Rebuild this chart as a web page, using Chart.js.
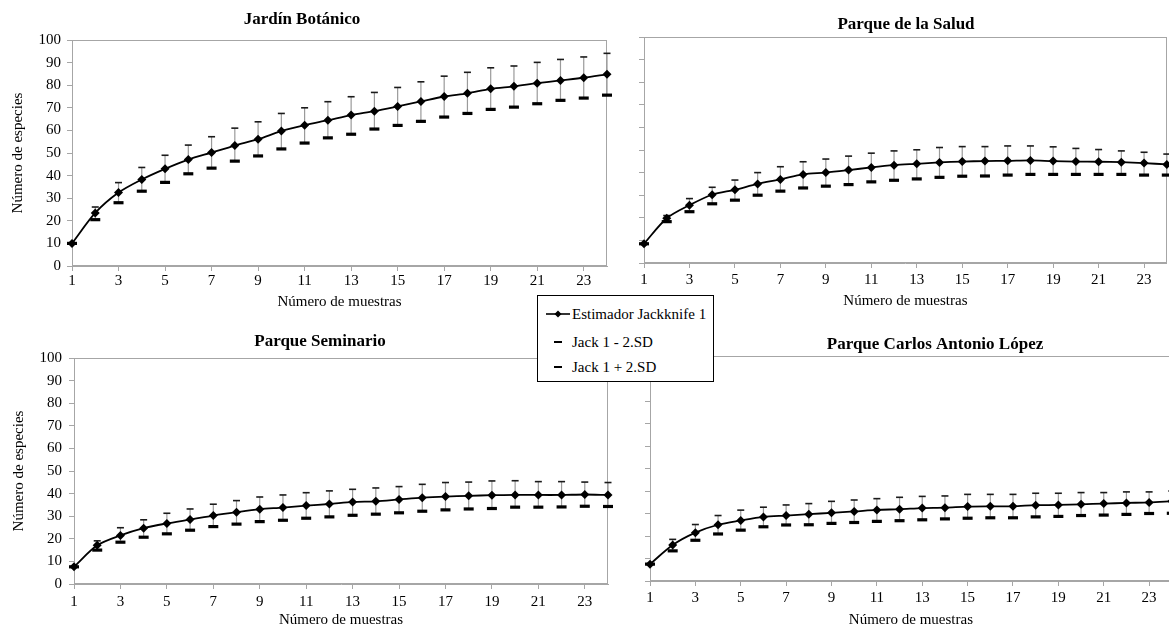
<!DOCTYPE html>
<html>
<head>
<meta charset="utf-8">
<script src="https://cdn.jsdelivr.net/npm/chart.js@4.4.1/dist/chart.umd.min.js"></script>
<style>
  html, body { margin: 0; padding: 0; background: #fff; width: 1169px; height: 629px; overflow: hidden; }
  body { position: relative; }
  canvas { position: absolute; }
  #legend { position: absolute; left: 537px; top: 295px; width: 177px; height: 87px; box-sizing: border-box;
            border: 1px solid #000; background: #fff; z-index: 10;
            font-family: 'Liberation Serif', 'Times New Roman', serif; font-size: 15px; color: #000; }
  #legend .row { position: absolute; left: 0; height: 18px; line-height: 18px; white-space: nowrap; }
  #legend svg { position: absolute; top: 4px; }
  #legend span { position: absolute; left: 34px; top: 0; }
</style>
</head>
<body>
<canvas id="c1" width="620" height="320" style="left:0px;top:0px"></canvas>
<canvas id="c2" width="560" height="320" style="left:615px;top:0px"></canvas>
<canvas id="c3" width="620" height="309" style="left:0px;top:320px"></canvas>
<canvas id="c4" width="565" height="309" style="left:615px;top:320px"></canvas>
<div id="legend"></div>
<script>
// ---------------- DATA ----------------
const samples = [1,2,3,4,5,6,7,8,9,10,11,12,13,14,15,16,17,18,19,20,21,22,23,24];
const xTickLabels = [1,3,5,7,9,11,13,15,17,19,21,23];
const seriesNames = ['Estimador Jackknife 1', 'Jack 1 - 2.SD', 'Jack 1 + 2.SD'];
const panelTitles = ['Jardín Botánico', 'Parque de la Salud', 'Parque Seminario', 'Parque Carlos Antonio López'];
const yAxisTitle = 'Número de especies';
const xAxisTitle = 'Número de muestras';

const jardinMean  = [10, 23.5, 32.5, 38.3, 43, 47.1, 50.2, 53.3, 56.1, 59.7, 62.3, 64.5, 66.8, 68.5, 70.6, 72.8, 75, 76.4, 78.4, 79.5, 80.9, 82.1, 83.3, 84.8];
const jardinLower = [10, 20.5, 28, 33.1, 37, 40.8, 43.3, 46.4, 48.7, 51.8, 54.4, 56.7, 58.3, 60.6, 62.2, 64, 65.9, 67.5, 69.3, 70.3, 71.8, 73.3, 74.3, 75.6];
const jardinUpper = [10, 26.1, 36.9, 43.6, 49, 53.5, 57.2, 61, 63.8, 67.5, 70, 72.7, 74.9, 76.8, 79, 81.5, 84, 85.7, 87.7, 88.5, 90.1, 91.4, 92.5, 94.1];

const saludMean  = [8.5, 19.8, 25.6, 30.2, 32.4, 35, 37, 39.2, 40, 41.1, 42.3, 43.3, 43.9, 44.5, 44.9, 45.1, 45.2, 45.4, 45.1, 44.9, 44.8, 44.6, 44.2, 43.6];
const saludLower = [8.5, 18.3, 22.7, 26.2, 27.8, 30, 31.8, 33.2, 34, 34.7, 35.9, 36.6, 37.2, 37.9, 38.4, 38.5, 38.9, 39.2, 39.2, 39.2, 39.2, 39.2, 38.9, 38.9];
const saludUpper = [8.5, 21, 28.5, 33.5, 36.7, 40, 42.6, 44.8, 46, 47.3, 48.6, 49.6, 50.1, 51.1, 51.5, 51.5, 51.8, 51.8, 51.4, 50.7, 50.2, 49.6, 49, 48.2];

const seminarioMean  = [7.6, 17.1, 21.5, 24.7, 26.8, 28.5, 30.3, 31.8, 33.1, 33.8, 34.7, 35.4, 36.3, 36.6, 37.4, 38.2, 38.7, 39, 39.3, 39.4, 39.4, 39.4, 39.6, 39.4];
const seminarioLower = [7.6, 15, 18.5, 20.7, 22.2, 23.8, 25.4, 26.5, 27.6, 28.2, 29.1, 29.7, 30.4, 30.9, 31.5, 32.2, 32.8, 33.2, 33.4, 34, 34, 34.1, 34.4, 34.3];
const seminarioUpper = [7.6, 19.1, 24.9, 28.4, 31.3, 33.2, 35.3, 36.9, 38.5, 39.4, 40.4, 41.2, 41.9, 42.5, 43.1, 44.1, 44.9, 45.1, 45.6, 45.7, 45.3, 45.3, 45.1, 44.9];

const lopezMean  = [7.5, 16, 21.5, 25, 26.9, 28.5, 29.1, 29.7, 30.3, 30.9, 31.6, 31.9, 32.4, 32.6, 33.1, 33.2, 33.2, 33.7, 33.8, 34.1, 34.4, 34.7, 34.9, 35.5];
const lopezLower = [7.5, 13.4, 18.1, 20.9, 22.6, 24.1, 24.9, 25, 25.6, 26, 26.5, 26.8, 27.2, 27.6, 27.9, 28.1, 28.1, 28.5, 28.7, 29.1, 29.3, 29.6, 30, 30.1];
const lopezUpper = [7.5, 18.5, 25.1, 29.1, 31.5, 32.8, 33.8, 34.4, 35.4, 36, 36.6, 37.2, 37.6, 37.8, 38.5, 38.5, 38.5, 39, 39, 39.3, 39.3, 39.6, 39.6, 40];

// ---------------- STYLE / LAYOUT ----------------
Chart.defaults.font.family = "'Liberation Serif', 'Times New Roman', serif";
Chart.defaults.color = '#000';
const AXIS_GRAY = '#a6a6a6';

const framePlugin = {
  id: 'frame',
  beforeDatasetsDraw(chart) {
    const {ctx, chartArea: a} = chart;
    ctx.save();
    ctx.strokeStyle = AXIS_GRAY;
    ctx.lineWidth = 1;
    ctx.strokeRect(Math.round(a.left) + 0.5, Math.round(a.top) + 0.5,
                   Math.round(a.right - a.left) - 1, Math.round(a.bottom - a.top) - 1);
    ctx.restore();
  }
};

const titlePlace = {
  id: 'titlePlace',
  afterLayout(chart, args, opts) {
    const tb = chart.titleBlock;
    if (!tb) return;
    const w = tb.right - tb.left, h = tb.bottom - tb.top;
    tb.left = opts.x - w / 2; tb.right = tb.left + w;
    tb.top = opts.y - h / 2; tb.bottom = tb.top + h;
  }
};

function makePanel(id, title, mean, lower, upper, L) {
  const pts = ys => samples.map((x, i) => ({x: x, y: ys[i]}));
  const whiskers = samples.flatMap((x, i) => [{x: x, y: lower[i]}, {x: x, y: upper[i]}, {x: x, y: null}]);
  const gridOpts = {display: true, drawOnChartArea: false, drawTicks: true, tickLength: 5, color: AXIS_GRAY, lineWidth: 1};
  return new Chart(document.getElementById(id), {
    type: 'line',
    data: {
      datasets: [
        {label: seriesNames[0], data: pts(mean), showLine: true, borderColor: '#000', borderWidth: 1.8,
         tension: 0.3, pointStyle: 'rectRot', pointRadius: 4.5, pointBackgroundColor: '#000',
         pointBorderColor: '#000', pointBorderWidth: 0, clip: false, order: 0},
        {label: seriesNames[1], data: pts(lower), showLine: false, pointStyle: 'line', pointRadius: 5,
         pointBorderWidth: 3.2, pointBorderColor: '#000', pointBackgroundColor: '#000', clip: false, order: 1},
        {label: seriesNames[2], data: pts(upper), showLine: false, pointStyle: 'line', pointRadius: 3.5,
         pointBorderWidth: 1.6, pointBorderColor: '#1a1a1a', pointBackgroundColor: '#1a1a1a', clip: false, order: 2},
        {label: 'whiskers', data: whiskers, showLine: true, borderColor: '#9a9a9a', borderWidth: 1.2,
         pointRadius: 0, spanGaps: false, tension: 0, clip: false, order: 3}
      ]
    },
    options: {
      responsive: false,
      animation: false,
      events: [],
      layout: {padding: L.pad},
      plugins: {
        legend: {display: false},
        tooltip: {enabled: false},
        title: {display: true, text: title, fullSize: true, padding: 0, color: '#000',
                font: {size: 17, weight: 'bold'}},
        titlePlace: {x: L.titleX, y: L.titleY}
      },
      scales: {
        x: {
          type: 'linear', min: 1, max: 24,
          afterBuildTicks: s => { s.ticks = xTickLabels.map(v => ({value: v})); },
          ticks: {padding: L.xTickPad, color: '#000', font: {size: 15}, maxRotation: 0, autoSkip: false},
          grid: gridOpts,
          border: {display: true, color: AXIS_GRAY, width: 1},
          title: {display: true, text: xAxisTitle, color: '#000', font: {size: 15}, padding: {top: 0, bottom: 0}},
          afterFit: s => { s.height = L.xH; }
        },
        y: {
          type: 'linear', min: 0, max: 100,
          ticks: {stepSize: 10, display: L.showY, padding: L.yTickPad, color: '#000', font: {size: 15}},
          grid: gridOpts,
          border: {display: true, color: AXIS_GRAY, width: 1},
          title: {display: L.showY, text: yAxisTitle, color: '#000', font: {size: 15},
                  padding: {top: L.yTitlePad, bottom: 0}},
          afterFit: s => { s.width = L.yW; }
        }
      }
    },
    plugins: [framePlugin, titlePlace]
  });
}

makePanel('c1', panelTitles[0], jardinMean, jardinLower, jardinUpper,
  {pad: {left: 0, right: 13, top: 19.6, bottom: 9}, yW: 72, xH: 45, showY: true,
   titleX: 302, titleY: 20, yTitlePad: 9, yTickPad: 6, xTickPad: 1});
makePanel('c2', panelTitles[1], saludMean, saludLower, saludUpper,
  {pad: {left: 19, right: 7, top: 16.6, bottom: 10}, yW: 10, xH: 47, showY: false,
   titleX: 291, titleY: 25, yTitlePad: 0, yTickPad: 6, xTickPad: 3});
makePanel('c3', panelTitles[2], seminarioMean, seminarioLower, seminarioUpper,
  {pad: {left: 0, right: 12, top: 17.6, bottom: 0}, yW: 74, xH: 45, showY: true,
   titleX: 320, titleY: 22, yTitlePad: 10, yTickPad: 7, xTickPad: 4});
makePanel('c4', panelTitles[3], lopezMean, lopezLower, lopezUpper,
  {pad: {left: 25, right: 8, top: 15.6, bottom: 0}, yW: 10, xH: 48, showY: false,
   titleX: 320, titleY: 25, yTitlePad: 0, yTickPad: 6, xTickPad: 3});

// ---------------- LEGEND ----------------
const legendEl = document.getElementById('legend');
const rowCenters = [18, 46, 71];
seriesNames.forEach((name, i) => {
  const row = document.createElement('div');
  row.className = 'row';
  row.style.top = (rowCenters[i] - 9) + 'px';
  const marker = i === 0
    ? '<svg width="26" height="10" style="left:8px"><line x1="0" y1="5" x2="24" y2="5" stroke="#000" stroke-width="1.6"/><path d="M12 1.5 L15.5 5 L12 8.5 L8.5 5 Z" fill="#000"/></svg>'
    : '<svg width="26" height="10" style="left:8px"><line x1="8" y1="5" x2="16" y2="5" stroke="#000" stroke-width="2"/></svg>';
  const span = document.createElement('span');
  span.textContent = name;
  row.innerHTML = marker;
  row.appendChild(span);
  legendEl.appendChild(row);
});
</script>
</body>
</html>
